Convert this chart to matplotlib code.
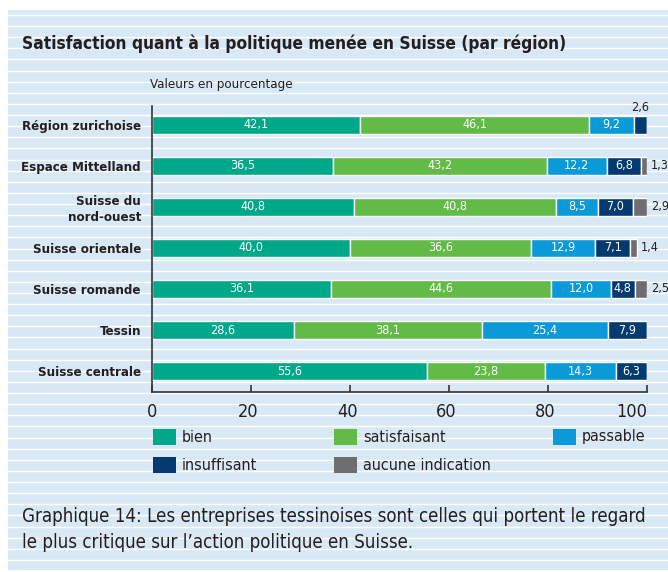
import matplotlib
matplotlib.use("Agg")
import matplotlib.pyplot as plt
import matplotlib.transforms as mtrans
from matplotlib.patches import Rectangle
from matplotlib.lines import Line2D

plt.rcParams['font.family'] = ['DejaVu Sans']
plt.rcParams['font.stretch'] = 'condensed'

regions = ["Région zurichoise", "Espace Mittelland", "Suisse du\nnord-ouest",
           "Suisse orientale", "Suisse romande", "Tessin", "Suisse centrale"]
bien = [42.1, 36.5, 40.8, 40.0, 36.1, 28.6, 55.6]
satisfaisant = [46.1, 43.2, 40.8, 36.6, 44.6, 38.1, 23.8]
passable = [9.2, 12.2, 8.5, 12.9, 12.0, 25.4, 14.3]
insuffisant = [2.6, 6.8, 7.0, 7.1, 4.8, 7.9, 6.3]
aucune = [0, 1.3, 2.9, 1.4, 2.5, 0, 0]

series = [("bien", bien, "#00a88a"),
          ("satisfaisant", satisfaisant, "#62bb46"),
          ("passable", passable, "#0a9ad8"),
          ("insuffisant", insuffisant, "#033a70"),
          ("aucune indication", aucune, "#6e6e70")]

bg = "#d9e8f5"
dark = "#231f20"

fig = plt.figure(figsize=(6.68, 5.72), dpi=100)
W, H = 668, 572

# panel background with white stripes
fig.patches.append(Rectangle((8 / W, 1 - 570 / H), 1, 560 / H, transform=fig.transFigure,
                             facecolor=bg, edgecolor="none", zorder=-10))
y = 15.0
while y < 568:
    fig.lines.append(Line2D([8 / W, 1], [1 - y / H, 1 - y / H], transform=fig.transFigure,
                            color="white", lw=1.0, zorder=-9))
    y += 11.12

ax = fig.add_axes([152 / W, 1 - 392 / H, 495 / W, 286 / H])
ax.set_facecolor("none")
ypos = list(range(len(regions)))

left = [0] * len(regions)
for name, vals, col in series:
    ax.barh(ypos, vals, left=left, height=0.44, color=col, edgecolor="white", linewidth=1.0)
    for i, v in enumerate(vals):
        if v == 0:
            continue
        lab = f"{v:.1f}".replace(".", ",")
        if name == "aucune indication":
            ax.text(left[i] + v + 0.8, i, lab, ha="left", va="center", fontsize=9, color=dark)
        elif v < 3:
            ax.text(left[i] + v / 2, i - 0.27, lab, ha="center", va="bottom", fontsize=9, color=dark)
        else:
            ax.text(left[i] + v / 2, i, lab, ha="center", va="center", fontsize=9, color="white")
    left = [l + v for l, v in zip(left, vals)]

ax.set_xlim(0, 100)
ax.set_ylim(6.512, -0.463)
ax.set_yticks(ypos)
ax.set_yticklabels(regions, fontsize=9.5, fontweight="bold", color=dark, linespacing=1.25)
ax.tick_params(axis="y", length=0, pad=8)
ax.set_xticks([0, 20, 40, 60, 80, 100])
ax.tick_params(axis="x", direction="in", length=5, width=1.2, color="#333333",
               labelsize=13, labelcolor=dark, pad=8)
shift = mtrans.ScaledTranslation(-3 / 100, 0, fig.dpi_scale_trans)
xlabels = ax.get_xticklabels()
for lbl in xlabels[1:-1]:
    lbl.set_transform(lbl.get_transform() + shift)
xlabels[-1].set_ha("right")
for s in ["top", "right"]:
    ax.spines[s].set_visible(False)
for s in ["left", "bottom"]:
    ax.spines[s].set_color("#333333")
    ax.spines[s].set_linewidth(1.2)

# titles
fig.text(22 / W, 1 - 44 / H, "Satisfaction quant à la politique menée en Suisse (par région)",
         fontsize=12.4, fontweight="bold", color=dark, va="center", ha="left")
fig.text(150 / W, 1 - 85 / H, "Valeurs en pourcentage", fontsize=9.5, color=dark,
         va="center", ha="left")

# legend
leg_pos = [(153, 437), (334, 437), (553, 437), (153, 465), (334, 465)]
for (name, vals, col), (lx, ly) in zip(series, leg_pos):
    fig.patches.append(Rectangle((lx / W, 1 - (ly + 8) / H), 23 / W, 16 / H,
                                 transform=fig.transFigure, facecolor=col, edgecolor="none"))
    fig.text((lx + 29) / W, 1 - ly / H, name, fontsize=11.5, color=dark, va="center", ha="left")

fig.text(22 / W, 1 - 516 / H,
         "Graphique 14: Les entreprises tessinoises sont celles qui portent le regard",
         fontsize=13.4, color=dark, va="center", ha="left")
fig.text(22 / W, 1 - 543 / H, "le plus critique sur l’action politique en Suisse.",
         fontsize=13.4, color=dark, va="center", ha="left")

fig.savefig("out.png", dpi=100, facecolor="white")
